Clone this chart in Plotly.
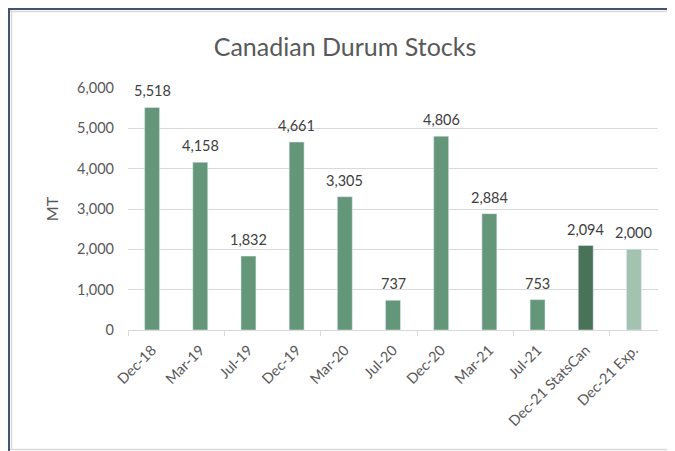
import plotly.graph_objects as go

categories = ["Dec-18", "Mar-19", "Jul-19", "Dec-19", "Mar-20", "Jul-20",
              "Dec-20", "Mar-21", "Jul-21", "Dec-21 StatsCan", "Dec-21 Exp."]
stocks = [5518, 4158, 1832, 4661, 3305, 737, 4806, 2884, 753, 2094, 2000]
bar_colors = ["#64977a"] * 9 + ["#4a7259", "#a3c2af"]

# page body adds an 8px offset, so the figure is 8px smaller than the window
OFF = 8
W, H = 675 - OFF, 451 - OFF
ML, MR, MT_, MB = 128 - OFF, 17, 88 - OFF, 121
PW, PH = W - ML - MR, H - MT_ - MB

def px(xp):
    return (xp - OFF - ML) / PW

def py(yp):
    return (H - MB - (yp - OFF)) / PH

fig = go.Figure()
fig.add_trace(go.Bar(
    x=categories, y=stocks, marker_color=bar_colors,
    showlegend=False,
))
fig.add_trace(go.Scatter(x=[], y=[], xaxis="x2", showlegend=False, hoverinfo="skip"))

for c, v in zip(categories, stocks):
    fig.add_annotation(x=c, y=v, xref="x", yref="y", text=f"{v:,}", showarrow=False,
                       yanchor="bottom", yshift=6,
                       font=dict(family="Lato", size=14.5, color="#404040"))

tickfont = dict(family="Lato", size=14.5, color="#595959")
fig.update_layout(
    width=W, height=H,
    margin=dict(l=ML, r=MR, t=MT_, b=MB),
    paper_bgcolor="white", plot_bgcolor="white",
    font=dict(family="Lato", color="#595959"),
    bargap=0.69,
    title=dict(text="Canadian Durum Stocks", x=(345 - OFF) / W, xanchor="center",
               y=1 - (47 - OFF) / H, yanchor="middle",
               font=dict(family="Lato", size=25, color="#595959")),
    xaxis=dict(type="category", tickangle=-45, tickfont=tickfont,
               showline=True, linecolor="#d9d9d9", linewidth=1,
               ticks="", showgrid=False, range=[-0.5, len(categories) - 0.5],
               ticklabelstandoff=5),
    xaxis2=dict(overlaying="x", range=[-0.5, len(categories) - 0.5],
                tickmode="array",
                tickvals=[i - 0.5 for i in range(0, len(categories), 2)],
                ticks="outside", ticklen=5, tickcolor="#d9d9d9",
                showticklabels=False, showgrid=False, zeroline=False,
                showline=False, side="bottom", anchor="y"),
    yaxis=dict(range=[0, 6000], dtick=1000, tickformat=",", tickfont=tickfont,
               showgrid=True, gridcolor="#d9d9d9", gridwidth=1,
               zeroline=False, showline=False, ticks="", ticklabelstandoff=13,
               title=dict(text="MT", font=dict(family="Lato", size=16, color="#595959"),
                          standoff=14)),
    shapes=[
        dict(type="line", xref="paper", yref="paper", x0=px(8), x1=px(675), y0=py(9), y1=py(9),
             line=dict(color="#44546a", width=2)),
        dict(type="line", xref="paper", yref="paper", x0=px(9), x1=px(9), y0=py(8), y1=py(451),
             line=dict(color="#44546a", width=2)),
        dict(type="line", xref="paper", yref="paper", x0=px(10), x1=px(675), y0=py(11.5), y1=py(11.5),
             line=dict(color="#d9d9d9", width=1.5)),
        dict(type="line", xref="paper", yref="paper", x0=px(11.5), x1=px(11.5), y0=py(10), y1=py(450),
             line=dict(color="#d9d9d9", width=1.5)),
        dict(type="line", xref="paper", yref="paper", x0=px(10), x1=px(675), y0=py(449.5), y1=py(449.5),
             line=dict(color="#d9d9d9", width=1.5)),
    ],
)

fig.write_html("out.html")
